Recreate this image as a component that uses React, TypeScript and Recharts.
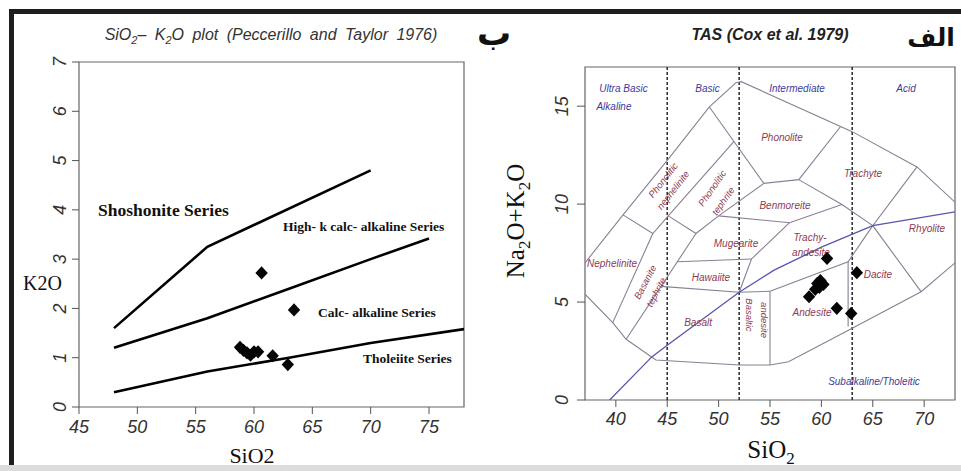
import React from "react";
import { ScatterChart, Scatter, XAxis, YAxis, ReferenceLine, ReferenceArea } from "recharts";

type Pt = { x: number; y: number };
type Lbl = { x: number; y: number; text: string };

const SANS = "'Liberation Sans', Arial, sans-serif";
const SERIF = "'Liberation Serif', 'Times New Roman', serif";

// ---------- SiO2 - K2O (Peccerillo and Taylor 1976) ----------
const k2oXTicks = [45, 50, 55, 60, 65, 70, 75];
const k2oYTicks = [0, 1, 2, 3, 4, 5, 6, 7];

const shoshoniteBoundary: Pt[] = [
  { x: 48, y: 1.6 },
  { x: 56, y: 3.25 },
  { x: 70, y: 4.8 },
];
const highKBoundary: Pt[] = [
  { x: 48, y: 1.2 },
  { x: 56, y: 1.8 },
  { x: 63, y: 2.4 },
  { x: 70, y: 3.0 },
  { x: 75, y: 3.42 },
];
const tholeiiteBoundary: Pt[] = [
  { x: 48, y: 0.3 },
  { x: 56, y: 0.72 },
  { x: 63, y: 1.0 },
  { x: 70, y: 1.3 },
  { x: 78, y: 1.58 },
];

const k2oSamples: Pt[] = [
  { x: 60.65, y: 2.72 },
  { x: 63.43, y: 1.97 },
  { x: 58.8, y: 1.21 },
  { x: 59.1, y: 1.15 },
  { x: 59.4, y: 1.1 },
  { x: 59.7, y: 1.05 },
  { x: 60.0, y: 1.12 },
  { x: 60.35, y: 1.12 },
  { x: 61.6, y: 1.04 },
  { x: 62.9, y: 0.86 },
];

const seriesNames: Lbl[] = [
  { x: 46.63, y: 3.88, text: "Shoshonite Series" },
  { x: 62.49, y: 3.57, text: "High- k calc- alkaline Series" },
  { x: 65.49, y: 1.83, text: "Calc- alkaline Series" },
  { x: 69.34, y: 0.89, text: "Tholeiite Series" },
];

// ---------- TAS (Cox et al. 1979) ----------
const tasXTicks = [40, 45, 50, 55, 60, 65, 70];
const tasYTicks = [0, 5, 10, 15];
const silicaDivisions = [45, 52, 63];

const tasTop: Pt[] = [
  { x: 51.7, y: 16.2 }, { x: 52.2, y: 16.25 }, { x: 63, y: 13.7 }, { x: 69.3, y: 11.9 }, { x: 73, y: 10.1 },
];
const tasLeft: Pt[] = [
  { x: 37, y: 7.0 }, { x: 40.7, y: 9.45 }, { x: 45.1, y: 12.3 }, { x: 49.1, y: 14.96 }, { x: 51.7, y: 16.2 },
];
const tasBottom: Pt[] = [
  { x: 37, y: 5.4 }, { x: 39.7, y: 3.95 }, { x: 41, y: 3.1 }, { x: 43.9, y: 2.04 }, { x: 52, y: 1.79 },
  { x: 55, y: 1.79 }, { x: 56.8, y: 1.95 }, { x: 63, y: 3.66 }, { x: 69.7, y: 5.53 }, { x: 73, y: 7.0 },
];
const phonoliteBase: Pt[] = [
  { x: 49.1, y: 14.96 }, { x: 54.4, y: 11.06 }, { x: 57.8, y: 11.25 }, { x: 61.85, y: 13.95 },
];
const trachyteBase: Pt[] = [{ x: 57.8, y: 11.25 }, { x: 62, y: 9.98 }, { x: 65, y: 8.9 }];
const rhyoliteLeft: Pt[] = [{ x: 69.3, y: 11.9 }, { x: 65, y: 8.9 }, { x: 69.7, y: 5.53 }];
const phonNephRight: Pt[] = [{ x: 51.5, y: 13.2 }, { x: 45.1, y: 9.4 }];
const phonNephBase: Pt[] = [{ x: 40.7, y: 9.45 }, { x: 43.6, y: 8.5 }, { x: 45.1, y: 9.4 }];
const phonTephRight: Pt[] = [{ x: 54.4, y: 11.06 }, { x: 50.0, y: 9.4 }];
const phonTephBase: Pt[] = [{ x: 45.1, y: 9.4 }, { x: 47.8, y: 8.5 }, { x: 50.0, y: 9.4 }];
const benmoreiteBase: Pt[] = [{ x: 50.0, y: 9.4 }, { x: 56.9, y: 9.05 }, { x: 62, y: 9.98 }];
const basaniteLeft: Pt[] = [{ x: 43.6, y: 8.5 }, { x: 39.7, y: 3.95 }];
const basaniteRight: Pt[] = [{ x: 47.8, y: 8.5 }, { x: 41, y: 3.1 }];
const hawaiiteTop: Pt[] = [{ x: 46.0, y: 7.06 }, { x: 53.2, y: 7.2 }];
const basaltTop: Pt[] = [{ x: 44.4, y: 5.8 }, { x: 52, y: 5.5 }, { x: 55, y: 5.55 }];
const mugeariteRight: Pt[] = [{ x: 52, y: 5.5 }, { x: 53.2, y: 7.2 }, { x: 56.9, y: 9.05 }];
const basAndesiteRight: Pt[] = [{ x: 55, y: 5.55 }, { x: 55, y: 1.79 }];
const andesiteTop: Pt[] = [{ x: 55, y: 5.55 }, { x: 62.6, y: 7.06 }, { x: 65, y: 8.9 }];
const daciteLeft: Pt[] = [{ x: 62.6, y: 7.06 }, { x: 62.6, y: 3.75 }];

const tasBoundaries: Pt[][] = [
  tasTop, tasLeft, tasBottom, phonoliteBase, trachyteBase, rhyoliteLeft,
  phonNephRight, phonNephBase, phonTephRight, phonTephBase, benmoreiteBase,
  basaniteLeft, basaniteRight, hawaiiteTop, basaltTop, mugeariteRight,
  basAndesiteRight, andesiteTop, daciteLeft,
];

const alkalineDivide: Pt[] = [
  { x: 39.4, y: 0 }, { x: 43.5, y: 2.2 }, { x: 45, y: 2.8 }, { x: 52, y: 5.5 },
  { x: 55.4, y: 6.63 }, { x: 60, y: 7.8 }, { x: 65, y: 8.9 }, { x: 73, y: 9.6 },
];

const tasSamples: Pt[] = [
  { x: 60.55, y: 7.23 },
  { x: 63.45, y: 6.5 },
  { x: 59.6, y: 5.95 },
  { x: 59.9, y: 6.1 },
  { x: 60.2, y: 5.9 },
  { x: 59.4, y: 5.65 },
  { x: 59.8, y: 5.75 },
  { x: 58.8, y: 5.27 },
  { x: 61.5, y: 4.68 },
  { x: 62.9, y: 4.42 },
];

const classNames: Lbl[] = [
  { x: 40.75, y: 15.9, text: "Ultra Basic" },
  { x: 39.82, y: 14.98, text: "Alkaline" },
  { x: 48.92, y: 15.9, text: "Basic" },
  { x: 57.63, y: 15.9, text: "Intermediate" },
  { x: 68.23, y: 15.9, text: "Acid" },
  { x: 65.12, y: 0.92, text: "Subalkaline/Tholeitic" },
];

const rockNames: Lbl[] = [
  { x: 56.17, y: 13.42, text: "Phonolite" },
  { x: 64.05, y: 11.54, text: "Trachyte" },
  { x: 56.46, y: 9.95, text: "Benmoreite" },
  { x: 70.27, y: 8.73, text: "Rhyolite" },
  { x: 58.89, y: 8.32, text: "Trachy-" },
  { x: 58.99, y: 7.55, text: "andesite" },
  { x: 51.69, y: 8.01, text: "Mugearite" },
  { x: 39.63, y: 6.99, text: "Nephelinite" },
  { x: 49.26, y: 6.23, text: "Hawaiite" },
  { x: 48.0, y: 3.98, text: "Basalt" },
  { x: 59.09, y: 4.49, text: "Andesite" },
  { x: 65.51, y: 6.43, text: "Dacite" },
];

const rotatedRockNames: Lbl[] = [
  { x: 44.59, y: 11.23, text: "Phonolitic" },
  { x: 45.56, y: 10.72, text: "nephelinite" },
  { x: 49.36, y: 10.82, text: "Phonolitic" },
  { x: 50.43, y: 10.16, text: "tephrite" },
  { x: 42.84, y: 6.02, text: "Basanite" },
  { x: 43.91, y: 5.51, text: "tephrite" },
  { x: 53.05, y: 4.34, text: "Basaltic" },
  { x: 54.42, y: 4.08, text: "andesite" },
];
const rotatedAngles = [-52, -52, -55, -55, -62, -62, 90, 90];

// ---------- rendering helpers ----------
const NoShape = () => <g />;

const Diamond = (props: any) => {
  const { cx, cy } = props;
  if (cx == null || cy == null) return <g />;
  const w = 6.2;
  const h = 6.6;
  return (
    <polygon
      points={`${cx},${cy - h} ${cx + w},${cy} ${cx},${cy + h} ${cx - w},${cy}`}
      fill="#050505"
    />
  );
};

const makeXTick = (dy: number) => (props: any) => {
  const { x, y, payload } = props;
  return (
    <text x={x} y={y + dy} textAnchor="middle" fontFamily={SANS} fontStyle="italic" fontSize={18} fill="#333">
      {payload.value}
    </text>
  );
};

const makeYTick = (off: number) => (props: any) => {
  const { x, y, payload } = props;
  const bx = x - off;
  return (
    <text
      x={bx}
      y={y}
      transform={`rotate(-90 ${bx} ${y})`}
      textAnchor="middle"
      fontFamily={SANS}
      fontStyle="italic"
      fontSize={18}
      fill="#333"
    >
      {payload.value}
    </text>
  );
};

const seriesNameShape = (props: any) => {
  const { cx, cy, payload } = props;
  const big = payload.text === "Shoshonite Series";
  return (
    <text x={cx} y={cy} fontFamily={SERIF} fontWeight="bold" fontSize={big ? 17.5 : 13.5} fill="#111">
      {payload.text}
    </text>
  );
};

const makeLabelShape = (color: string) => (props: any) => {
  const { cx, cy, payload } = props;
  return (
    <text x={cx} y={cy} textAnchor="middle" dominantBaseline="central" fontFamily={SANS} fontStyle="italic" fontSize={10} fill={color}>
      {payload.text}
    </text>
  );
};

const rotatedShape = (props: any) => {
  const { cx, cy, payload } = props;
  const i = rotatedRockNames.findIndex((r) => r.x === payload.x && r.y === payload.y);
  const a = rotatedAngles[i] ?? 0;
  return (
    <text
      x={cx}
      y={cy}
      transform={`rotate(${a} ${cx} ${cy})`}
      textAnchor="middle"
      dominantBaseline="central"
      fontFamily={SANS}
      fontStyle="italic"
      fontSize={9.5}
      fill="#8c3b52"
    >
      {payload.text}
    </text>
  );
};

function K2OPlot() {
  return (
    <ScatterChart width={480} height={471} margin={{ top: 62, right: 16, bottom: 34, left: 39 }}>
      <XAxis
        type="number"
        dataKey="x"
        domain={[45, 78]}
        ticks={k2oXTicks}
        allowDataOverflow
        axisLine={false}
        tickSize={7}
        tickLine={{ stroke: "#555" }}
        height={30}
        tick={makeXTick(17)}
      />
      <YAxis
        type="number"
        dataKey="y"
        domain={[0, 7]}
        ticks={k2oYTicks}
        allowDataOverflow
        axisLine={false}
        tickSize={7}
        tickLine={{ stroke: "#555" }}
        width={40}
        tick={makeYTick(4)}
      />
      <ReferenceArea x1={45} x2={78} y1={0} y2={7} fill="none" stroke="#666" strokeWidth={1.2} ifOverflow="visible" />
      {[shoshoniteBoundary, highKBoundary, tholeiiteBoundary].map((line, i) => (
        <Scatter
          key={`b${i}`}
          data={line}
          fill="#000"
          line={{ stroke: "#000", strokeWidth: 2.6 }}
          shape={NoShape}
          isAnimationActive={false}
        />
      ))}
      <Scatter data={seriesNames} shape={seriesNameShape} isAnimationActive={false} />
      <Scatter data={k2oSamples} shape={Diamond} isAnimationActive={false} />
    </ScatterChart>
  );
}

function TASPlot() {
  return (
    <ScatterChart width={481} height={471} margin={{ top: 67, right: 6, bottom: 41, left: 65 }}>
      <XAxis
        type="number"
        dataKey="x"
        domain={[37, 73]}
        ticks={tasXTicks}
        allowDataOverflow
        axisLine={false}
        tickSize={7}
        tickLine={{ stroke: "#555" }}
        height={30}
        tick={makeXTick(16)}
      />
      <YAxis
        type="number"
        dataKey="y"
        domain={[0, 17]}
        ticks={tasYTicks}
        allowDataOverflow
        axisLine={false}
        tickSize={8}
        tickLine={{ stroke: "#555" }}
        width={40}
        tick={makeYTick(7)}
      />
      <ReferenceArea x1={37} x2={73} y1={0} y2={17} fill="none" stroke="#666" strokeWidth={1.2} ifOverflow="visible" />
      {tasBoundaries.map((line, i) => (
        <Scatter
          key={`t${i}`}
          data={line}
          fill="#8a7f94"
          line={{ stroke: "#8a7f94", strokeWidth: 1.1 }}
          shape={NoShape}
          isAnimationActive={false}
        />
      ))}
      <Scatter
        data={alkalineDivide}
        fill="#5656ad"
        line={{ stroke: "#5656ad", strokeWidth: 1.3 }}
        shape={NoShape}
        isAnimationActive={false}
      />
      {silicaDivisions.map((v) => (
        <ReferenceLine key={v} x={v} stroke="#333" strokeWidth={1.6} strokeDasharray="3 2" />
      ))}
      <Scatter data={classNames} shape={makeLabelShape("#3b3b9a")} isAnimationActive={false} />
      <Scatter data={rockNames} shape={makeLabelShape("#8c3b52")} isAnimationActive={false} />
      <Scatter data={rotatedRockNames} shape={rotatedShape} isAnimationActive={false} />
      <Scatter data={tasSamples} shape={Diamond} isAnimationActive={false} />
    </ScatterChart>
  );
}

export default function App() {
  return (
    <div style={{ position: "absolute", left: 0, top: 0, width: 961, height: 471, background: "#fff", overflow: "hidden" }}>
      <div
        style={{
          position: "absolute",
          left: 9,
          top: 9,
          right: -10,
          bottom: 6,
          borderTop: "5px solid #1e1e1e",
          borderLeft: "5px solid #1e1e1e",
        }}
      />
      <div style={{ position: "absolute", left: 0, right: 0, bottom: 0, height: 6, background: "#dcdcdc" }} />
      <div style={{ position: "absolute", left: 0, top: 0 }}>
        <K2OPlot />
      </div>
      <div style={{ position: "absolute", left: 480, top: 0 }}>
        <TASPlot />
      </div>
      <svg width={961} height={471} style={{ position: "absolute", left: 0, top: 0, pointerEvents: "none" }}>
        <text x={271} y={40} textAnchor="middle" fontFamily={SANS} fontStyle="italic" fontSize={16} fill="#333" wordSpacing={4}>
          SiO<tspan dy={4} fontSize={11}>2</tspan>
          <tspan dy={-4}>– K</tspan>
          <tspan dy={4} fontSize={11}>2</tspan>
          <tspan dy={-4}>O plot (Peccerillo and Taylor 1976)</tspan>
        </text>
        <text x={770} y={40} textAnchor="middle" fontFamily={SANS} fontStyle="italic" fontWeight="bold" fontSize={16} fill="#222">
          TAS (Cox et al. 1979)
        </text>
        <text x={494} y={45} textAnchor="middle" fontFamily="'DejaVu Sans', sans-serif" fontWeight="bold" fontSize={34} fill="#111">
          ب
        </text>
        <text x={931} y={46} textAnchor="middle" fontFamily="'DejaVu Sans', sans-serif" fontWeight="bold" fontSize={25} fill="#111">
          الف
        </text>
        <text x={23} y={290} fontFamily={SERIF} fontSize={20} fill="#111">
          K2O
        </text>
        <text x={252} y={463} textAnchor="middle" fontFamily={SERIF} fontSize={22} fill="#111">
          SiO2
        </text>
        <text x={771} y={458} textAnchor="middle" fontFamily={SERIF} fontSize={25} fill="#111">
          SiO<tspan dy={6} fontSize={17}>2</tspan>
        </text>
        <text
          x={524}
          y={221}
          transform="rotate(-90 524 221)"
          textAnchor="middle"
          fontFamily={SERIF}
          fontSize={25}
          fill="#111"
        >
          Na<tspan dy={6} fontSize={17}>2</tspan>
          <tspan dy={-6}>O+K</tspan>
          <tspan dy={6} fontSize={17}>2</tspan>
          <tspan dy={-6}>O</tspan>
        </text>
      </svg>
    </div>
  );
}
